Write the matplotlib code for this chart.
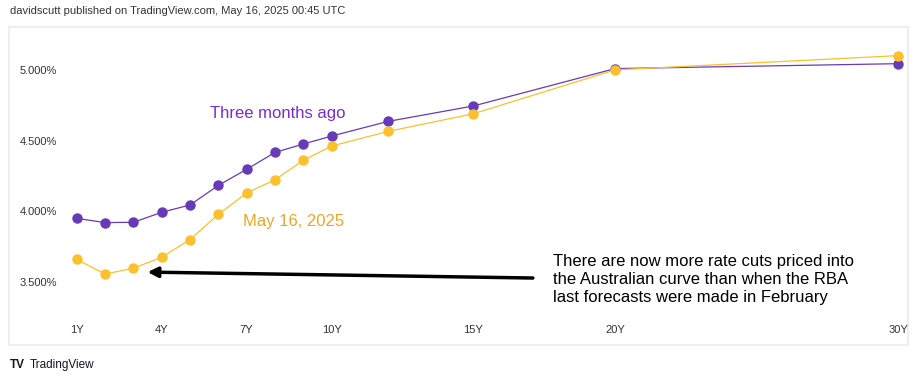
import matplotlib
matplotlib.use("Agg")
import matplotlib.pyplot as plt
import matplotlib.transforms as mtransforms

plt.rcParams['font.family'] = ['Liberation Sans', 'DejaVu Sans']

# maturities in years
tenors = [1, 2, 3, 4, 5, 6, 7, 8, 9, 10, 12, 15, 20, 30]
three_months_ago = [3.955, 3.925, 3.927, 3.998, 4.050, 4.189, 4.303, 4.423, 4.482,
                    4.539, 4.643, 4.752, 5.017, 5.052]
may_16 = [3.664, 3.560, 3.601, 3.679, 3.805, 3.984, 4.135, 4.229, 4.367,
          4.468, 4.572, 4.697, 5.008, 5.109]

xtick_pos = [1, 4, 7, 10, 15, 20, 30]
xtick_labels = ["1Y", "4Y", "7Y", "10Y", "15Y", "20Y", "30Y"]
ytick_pos = [3.5, 4.0, 4.5, 5.0]
ytick_labels = ["3.500%", "4.000%", "4.500%", "5.000%"]

PURPLE = "#673ab7"
YELLOW = "#fbc02d"

fig = plt.figure(figsize=(9.18, 3.83), dpi=100)
ax = fig.add_axes([9 / 918, 38 / 383, 899 / 918, 318 / 383])

ax.plot(tenors, three_months_ago, color=PURPLE, lw=0.9, marker="o", ms=6.5, zorder=3)
ax.plot(tenors, may_16, color=YELLOW, lw=0.9, marker="o", ms=6.5, zorder=4)

ax.set_xlim(-1.39, 30.34)
ax.set_ylim(3.057, 5.312)
ax.set_xticks([])
ax.set_yticks([])
for s in ax.spines.values():
    s.set_color("#eeeeee")
    s.set_linewidth(1.5)

# tick labels drawn inside the frame, like the TradingView chart
tx = mtransforms.blended_transform_factory(ax.transData, ax.transAxes)
for p, lab in zip(xtick_pos, xtick_labels):
    ax.text(p, 0.047, lab, transform=tx, ha="center", va="center", fontsize=8, color="#333333")
ty = mtransforms.blended_transform_factory(ax.transAxes, ax.transData)
for p, lab in zip(ytick_pos, ytick_labels):
    ax.text(0.012, p, lab, transform=ty, ha="left", va="center", fontsize=8, color="#333333")

ax.text(5.7, 4.70, "Three months ago", color="#7b2bd0", fontsize=12, ha="left", va="center")
ax.text(6.87, 3.93, "May 16, 2025", color="#eba62a", fontsize=12, ha="left", va="center")

ax.annotate("", xy=(3.5, 3.574), xytext=(17.1, 3.532),
            arrowprops=dict(arrowstyle="-|>,head_length=0.6,head_width=0.3", color="black", lw=2.5,
                            shrinkA=0, shrinkB=0))
ax.text(17.8, 3.518,
        "There are now more rate cuts priced into\nthe Australian curve than when the RBA\nlast forecasts were made in February",
        fontsize=12, ha="left", va="center", linespacing=1.25, color="black")

fig.text(10 / 918, 1 - 11 / 383, "davidscutt published on TradingView.com, May 16, 2025 00:45 UTC",
         fontsize=8, color="#333333", ha="left", va="center")
fig.text(10 / 918, 1 - 365 / 383, "TV", fontsize=8.5, fontweight="bold", color="#131722",
         ha="left", va="center")
fig.text(30 / 918, 1 - 365 / 383, "TradingView", fontsize=8.5, color="#131722", ha="left", va="center")

fig.savefig("out.png", dpi=100)
